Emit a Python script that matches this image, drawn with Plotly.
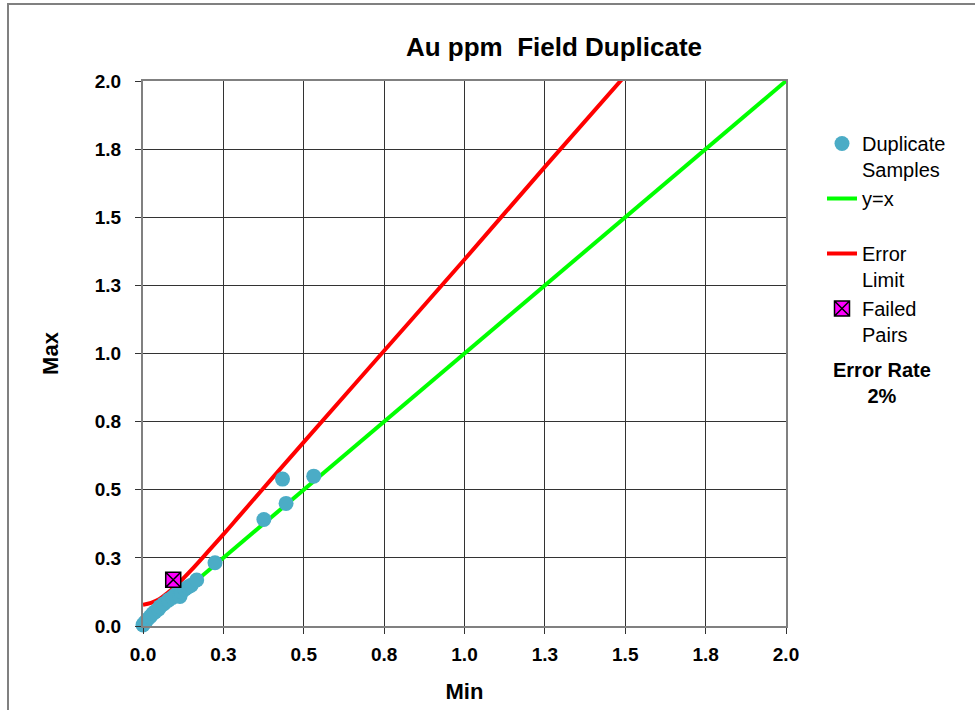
import plotly.graph_objects as go

# ---- data ----
dup_min = [0.0, 0.005, 0.012, 0.022, 0.03, 0.037, 0.048, 0.053, 0.065, 0.079, 0.092, 0.10, 0.115, 0.12, 0.13, 0.14, 0.15, 0.167, 0.224, 0.376, 0.434, 0.445, 0.531]
dup_max = [0.004, 0.012, 0.022, 0.034, 0.045, 0.052, 0.062, 0.071, 0.082, 0.095, 0.105, 0.114, 0.108, 0.126, 0.135, 0.143, 0.15, 0.169, 0.232, 0.391, 0.539, 0.45, 0.55]

fail_min = [0.094]
fail_max = [0.170]

xy_line = [0.0, 2.0]

err_x = [0.0, 0.025, 0.05, 0.075, 0.1, 0.15, 0.2, 0.25, 0.3, 0.4, 0.5, 0.75, 1.0, 1.25, 1.5]
err_y = [0.078, 0.085, 0.098, 0.12, 0.145, 0.205, 0.27, 0.336, 0.404, 0.54, 0.675, 1.01, 1.345, 1.685, 2.02]

tick_vals = [0.0, 0.25, 0.5, 0.75, 1.0, 1.25, 1.5, 1.75, 2.0]
tick_text = ["0.0", "0.3", "0.5", "0.8", "1.0", "1.3", "1.5", "1.8", "2.0"]

FONT = "Arial, Liberation Sans, sans-serif"

fig = go.Figure()
fig.add_trace(go.Scatter(x=xy_line, y=xy_line, mode="lines", name="y=x<br>\u00a0",
                         line=dict(color="#00FF00", width=4), legendrank=2))
fig.add_trace(go.Scatter(x=err_x, y=err_y, mode="lines", name="Error<br>Limit",
                         line=dict(color="#FF0000", width=4, shape="spline"), legendrank=3))
fig.add_trace(go.Scatter(x=dup_min, y=dup_max, mode="markers", name="Duplicate<br>Samples",
                         marker=dict(color="#4BACC6", size=15, symbol="circle"), legendrank=1,
                         cliponaxis=False))
fig.add_trace(go.Scatter(x=fail_min, y=fail_max, mode="markers", name="Failed<br>Pairs",
                         marker=dict(color="#FF00FF", size=15, symbol="square-x",
                                     line=dict(color="black", width=1.5)), legendrank=4,
                         cliponaxis=False))

W, H = 975, 710
L, R, T, B = 143, 975 - 786, 81, 710 - 626
pw, ph = W - L - R, H - T - B

def px(x):
    return (x - L) / pw

def py(y):
    return (H - B - y) / ph

axis_common = dict(
    range=[0, 2.0], tickvals=tick_vals, ticktext=tick_text,
    showgrid=True, gridcolor="#333333", gridwidth=1,
    showline=True, linecolor="#808080", linewidth=2, mirror=True,
    ticks="outside", ticklen=6, tickcolor="#333333",
    tickfont=dict(family=FONT, size=19, color="black", weight="bold"),
    zeroline=False, fixedrange=True, automargin=False,
)

fig.update_layout(
    width=W, height=H,
    margin=dict(l=L, r=R, t=T, b=B, autoexpand=False),
    paper_bgcolor="white", plot_bgcolor="white",
    title=dict(text="<b>Au ppm\u00a0 Field Duplicate</b>", x=554 / W, xanchor="center",
               y=1 - 47 / H, yanchor="middle",
               font=dict(family=FONT, size=26, color="black")),
    xaxis=dict(**axis_common, ticklabelstandoff=4,
               title=dict(text="<b>Min</b>", font=dict(family=FONT, size=22, color="black"), standoff=20)),
    yaxis=dict(**axis_common, ticklabelstandoff=10,
               title=dict(text="<b>Max</b>", font=dict(family=FONT, size=22, color="black"), standoff=30)),
    legend=dict(x=px(822), y=py(124), xanchor="left", yanchor="top",
                font=dict(family=FONT, size=20, color="black"),
                valign="top", bgcolor="rgba(0,0,0,0)", tracegroupgap=0),
    showlegend=True,
)

fig.add_annotation(text="<b>Error Rate<br>2%</b>", x=px(882), y=py(383), xref="paper", yref="paper",
                   xanchor="center", yanchor="middle", showarrow=False,
                   font=dict(family=FONT, size=20, color="black"))

# outer chart frame
fig.add_shape(type="rect", xref="paper", yref="paper",
              x0=px(8), x1=px(990), y0=py(720), y1=py(4),
              line=dict(color="#808080", width=2), fillcolor="rgba(0,0,0,0)", layer="below")

fig.write_html("out.html")
